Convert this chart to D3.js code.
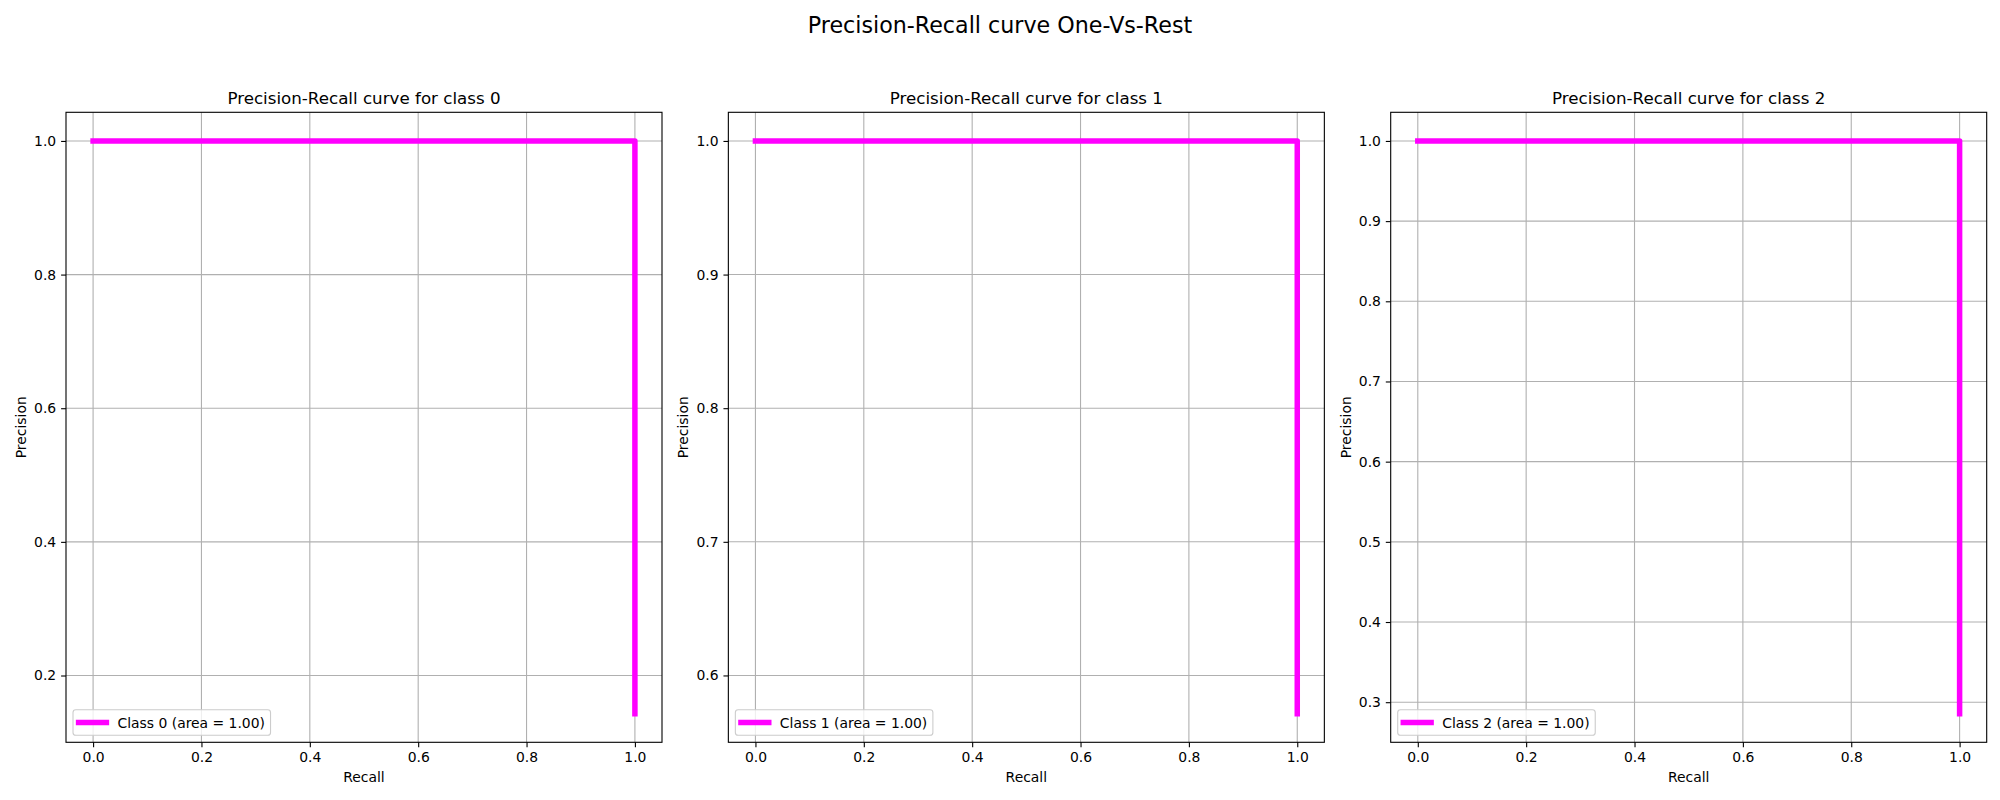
<!DOCTYPE html>
<html>
<head>
<meta charset="utf-8">
<script src="https://cdn.jsdelivr.net/npm/d3@7"></script>
<style>
  html, body { margin: 0; padding: 0; background: #fff; }
  svg { display: block; font-family: "DejaVu Sans", sans-serif; }
</style>
</head>
<body>
<svg id="chart" width="2000" height="800"></svg>
<script>
// ---- data ----
const suptitle = "Precision-Recall curve One-Vs-Rest";
const classes = [0, 1, 2];
const recall0 = [1.0, 1.0, 1.0, 0.0];
const precision0 = [0.1429, 0.1667, 1.0, 1.0];
const recall1 = [1.0, 1.0, 1.0, 0.0];
const precision1 = [0.5714, 0.6, 1.0, 1.0];
const recall2 = [1.0, 1.0, 1.0, 0.0];
const precision2 = [0.2857, 0.3333, 1.0, 1.0];
const areas = [1.00, 1.00, 1.00];
const xTicks = [0.0, 0.2, 0.4, 0.6, 0.8, 1.0];
const yTicks0 = [0.2, 0.4, 0.6, 0.8, 1.0];
const yTicks1 = [0.6, 0.7, 0.8, 0.9, 1.0];
const yTicks2 = [0.3, 0.4, 0.5, 0.6, 0.7, 0.8, 0.9, 1.0];

const recalls = [recall0, recall1, recall2];
const precisions = [precision0, precision1, precision2];
const yTicksAll = [yTicks0, yTicks1, yTicks2];

// ---- layout ----
const svg = d3.select("#chart");
const W = 2000;
const axTop = 112.3, axBottom = 742.3;
const axLeft0 = 66, axW = 596, axStep = 662.35;
const FS = 13.9;      // 10pt
const titleFS = 16.7; // 12pt
const supFS = 22.2;   // 16pt
const lineColor = "#ff00ff";
const gridColor = "#b0b0b0";

svg.append("text")
  .attr("x", W / 2).attr("y", 32.5)
  .attr("text-anchor", "middle")
  .attr("font-size", supFS)
  .attr("fill", "#000")
  .text(suptitle);

function padDomain(vals) {
  const [lo, hi] = d3.extent(vals);
  const m = (hi - lo) * 0.05;
  return [lo - m, hi + m];
}

classes.forEach((c, i) => {
  const left = axLeft0 + i * axStep;
  const right = left + axW;
  const g = svg.append("g");

  const rec = recalls[i], prec = precisions[i];
  const x = d3.scaleLinear().domain(padDomain(rec)).range([left, right]);
  const y = d3.scaleLinear().domain(padDomain(prec)).range([axBottom, axTop]);

  // grid
  const grid = g.append("g");
  xTicks.forEach(t => {
    grid.append("line")
      .attr("x1", x(t)).attr("x2", x(t))
      .attr("y1", axTop).attr("y2", axBottom)
      .attr("stroke", gridColor).attr("stroke-width", 1.1);
  });
  yTicksAll[i].forEach(t => {
    grid.append("line")
      .attr("x1", left).attr("x2", right)
      .attr("y1", y(t)).attr("y2", y(t))
      .attr("stroke", gridColor).attr("stroke-width", 1.1);
  });

  // curve
  const pts = rec.map((r, k) => [r, prec[k]]);
  g.append("path")
    .datum(pts)
    .attr("d", d3.line().x(d => x(d[0])).y(d => y(d[1])))
    .attr("fill", "none")
    .attr("stroke", lineColor)
    .attr("stroke-width", 5.5)
    .attr("stroke-linecap", "square")
    .attr("stroke-linejoin", "round");

  // axes
  const xAxis = d3.axisBottom(x).tickValues(xTicks).tickFormat(d3.format(".1f"))
    .tickSize(4.9).tickPadding(4.9);
  const gx = g.append("g").attr("transform", `translate(0,${axBottom})`).call(xAxis);
  const yAxis = d3.axisLeft(y).tickValues(yTicksAll[i]).tickFormat(d3.format(".1f"))
    .tickSize(4.9).tickPadding(4.9);
  const gy = g.append("g").attr("transform", `translate(${left},0)`).call(yAxis);
  [gx, gy].forEach(a => {
    a.select(".domain").remove();
    a.selectAll(".tick line").attr("stroke", "#000").attr("stroke-width", 1.1);
    a.selectAll(".tick text").attr("font-size", FS).attr("fill", "#000")
      .attr("font-family", "DejaVu Sans, sans-serif");
  });

  // spines
  g.append("rect")
    .attr("x", left).attr("y", axTop)
    .attr("width", axW).attr("height", axBottom - axTop)
    .attr("fill", "none").attr("stroke", "#000").attr("stroke-width", 1.1);

  // title
  g.append("text")
    .attr("x", (left + right) / 2).attr("y", 104)
    .attr("text-anchor", "middle").attr("font-size", titleFS)
    .text(`Precision-Recall curve for class ${c}`);

  // axis labels
  g.append("text")
    .attr("x", (left + right) / 2).attr("y", 782)
    .attr("text-anchor", "middle").attr("font-size", FS)
    .text("Recall");
  g.append("text")
    .attr("transform", `translate(${left - 40},${(axTop + axBottom) / 2}) rotate(-90)`)
    .attr("text-anchor", "middle").attr("font-size", FS)
    .text("Precision");

  // legend
  const lgX = left + 7, lgBottom = axBottom - 7;
  const lgH = 25.5;
  const label = `Class ${c} (area = ${areas[i].toFixed(2)})`;
  const lg = g.append("g");
  const box = lg.append("rect")
    .attr("x", lgX).attr("y", lgBottom - lgH)
    .attr("rx", 2.8).attr("ry", 2.8)
    .attr("height", lgH)
    .attr("fill", "#fff").attr("fill-opacity", 0.8)
    .attr("stroke", "#cccccc").attr("stroke-width", 1.1);
  const hx1 = lgX + 5.6, hx2 = hx1 + 27.8;
  const cy = lgBottom - lgH / 2;
  lg.append("line")
    .attr("x1", hx1).attr("x2", hx2).attr("y1", cy).attr("y2", cy)
    .attr("stroke", lineColor).attr("stroke-width", 5.5)
    .attr("stroke-linecap", "square");
  const txt = lg.append("text")
    .attr("x", hx2 + 11.1).attr("y", cy + 5)
    .attr("font-size", FS).text(label);
  const tw = txt.node().getComputedTextLength();
  box.attr("width", hx2 + 11.1 + tw + 5.6 - lgX);
});
</script>
</body>
</html>
